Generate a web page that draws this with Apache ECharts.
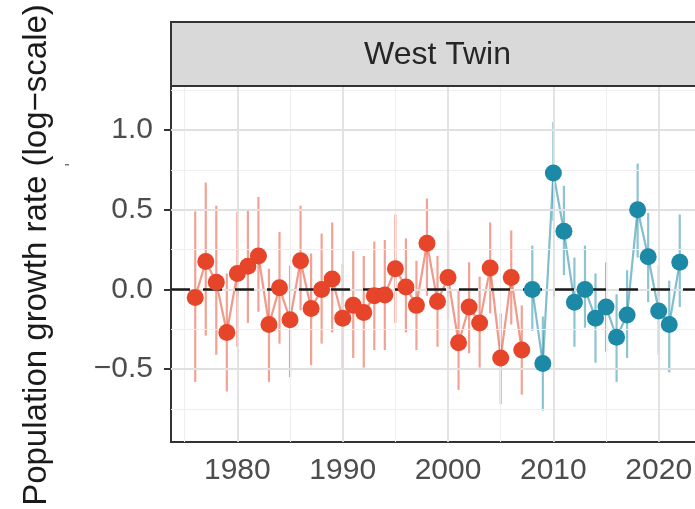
<!DOCTYPE html>
<html>
<head>
<meta charset="utf-8">
<script src="https://cdn.jsdelivr.net/npm/echarts@6/dist/echarts.min.js"></script>
<style>html,body{margin:0;padding:0;background:#fff}#c{width:695px;height:509px}</style>
</head>
<body>
<div id="c"></div>
<script>
// ---- data ----
const yearsA = [1976,1977,1978,1979,1980,1981,1982,1983,1984,1985,1986,1987,1988,1989,1990,1991,
                1992,1993,1994,1995,1996,1997,1998,1999,2000,2001,2002,2003,2004,2005,2006,2007];
const rateA  = [-0.05,0.175,0.045,-0.27,0.10,0.145,0.21,-0.22,0.01,-0.19,0.18,-0.12,0.0,0.065,-0.18,-0.10,
                -0.145,-0.04,-0.035,0.13,0.015,-0.10,0.29,-0.075,0.075,-0.335,-0.11,-0.21,0.135,-0.43,0.075,-0.38];
const lowA   = [-0.58,-0.29,-0.41,-0.64,-0.36,-0.21,-0.14,-0.58,-0.34,-0.55,-0.13,-0.475,-0.34,-0.27,-0.50,-0.43,
                -0.49,-0.38,-0.38,-0.21,-0.27,-0.38,-0.04,-0.36,-0.19,-0.63,-0.40,-0.49,-0.15,-0.72,-0.22,-0.66];
const highA  = [0.49,0.67,0.525,0.10,0.485,0.50,0.58,0.13,0.36,0.15,0.525,0.225,0.35,0.42,0.16,0.24,
                0.21,0.30,0.31,0.47,0.32,0.18,0.57,0.21,0.37,-0.01,0.17,0.08,0.42,-0.15,0.37,-0.10];

const yearsB = [2008,2009,2010,2011,2012,2013,2014,2015,2016,2017,2018,2019,2020,2021,2022];
const rateB  = [0.0,-0.465,0.73,0.365,-0.08,0.0,-0.18,-0.11,-0.30,-0.16,0.50,0.205,-0.135,-0.22,0.17];
const lowB   = [-0.26,-0.76,0.43,0.09,-0.36,-0.24,-0.46,-0.39,-0.58,-0.43,0.20,-0.08,-0.41,-0.52,-0.11];
const highB  = [0.275,-0.17,1.05,0.65,0.20,0.275,0.10,0.17,-0.03,0.12,0.79,0.48,0.15,0.055,0.47];

const xTicks = [1980,1990,2000,2010,2020];
const xMinor = [1975,1985,1995,2005,2015];
const yTicks = [-0.5,0.0,0.5,1.0];
const yMinor = [-0.75,-0.25,0.25,0.75,1.25];
const yTickLabels = ['\u22120.5','0.0','0.5','1.0'];
const panelTitle = 'West Twin';
const yTitle = 'Population growth rate (log\u2212scale)';

// ---- styling ----
const RED = '#E6452A', BLUE = '#1C89A6';
const FONT = 'Liberation Sans, Arial, sans-serif';
const GL = 171, GT = 86, GW = 533, GH = 356;

function pts(xs, ys){ return xs.map((x,i)=>[x, ys[i]]); }
function bars(xs, lo, hi){ return xs.map((x,i)=>[x, lo[i], hi[i]]); }

function errSeries(data, color){
  return {
    type:'custom', silent:true, z:3,
    data: data,
    encode:{x:0, y:[1,2]},
    renderItem: function(params, api){
      const a = api.coord([api.value(0), api.value(1)]);
      const b = api.coord([api.value(0), api.value(2)]);
      return {type:'line', shape:{x1:a[0],y1:a[1],x2:b[0],y2:b[1]},
              style:{stroke:color, lineWidth:2.2, opacity:0.5}};
    }
  };
}

const chart = echarts.init(document.getElementById('c'), null, {renderer:'canvas'});
chart.setOption({
  animation:false,
  backgroundColor:'#ffffff',
  grid:{left:GL, top:GT, width:GW, height:GH, show:true, borderColor:'#333333', borderWidth:2,
        backgroundColor:'transparent', containLabel:false, outerBoundsMode:'none'},
  xAxis:{
    type:'value', min:1973.7, max:2024.3,
    splitLine:{show:false}, axisLine:{show:false},
    axisTick:{show:true, length:7, customValues:xTicks, lineStyle:{color:'#333333', width:2}},
    axisLabel:{customValues:xTicks, margin:14, color:'#4d4d4d', fontSize:30, fontFamily:FONT,
      formatter:function(v){ return String(Math.round(v)); }}
  },
  yAxis:{
    type:'value', min:-0.957, max:1.276,
    splitLine:{show:false}, axisLine:{show:false},
    axisTick:{show:true, length:7, customValues:yTicks, lineStyle:{color:'#333333', width:2}},
    axisLabel:{customValues:yTicks, margin:18, color:'#4d4d4d', fontSize:30, fontFamily:FONT,
      formatter:function(v){ const i = yTicks.indexOf(v); return i>=0 ? yTickLabels[i] : ''; }}
  },
  graphic:[
    {type:'rect', shape:{x:GL, y:22, width:GW+10, height:GT-22}, style:{fill:'#d9d9d9', stroke:'#333333', lineWidth:2}, z:10},
    {type:'text', x:GL+GW/2, y:(22+GT)/2+1, style:{text:panelTitle, fill:'#262626', font:'32px '+FONT, align:'center', verticalAlign:'middle'}, z:11},
    {type:'text', x:37, y:255, rotation:Math.PI/2, style:{text:yTitle, fill:'#1a1a1a', font:'33px '+FONT, align:'center', verticalAlign:'middle'}, z:11},
    {type:'rect', shape:{x:65, y:164, width:4, height:1.5}, style:{fill:'#777777'}, z:11}
  ],
  series:[
    // grid lines
    {type:'line', data:[], silent:true, z:0,
     markLine:{silent:true, symbol:'none', label:{show:false}, animation:false,
       data:[].concat(
         xMinor.map(v=>({xAxis:v, lineStyle:{color:'#eeeeee', width:1, type:'solid'}})),
         yMinor.map(v=>({yAxis:v, lineStyle:{color:'#eeeeee', width:1, type:'solid'}})),
         xTicks.map(v=>({xAxis:v, lineStyle:{color:'#e0e0e0', width:1.8, type:'solid'}})),
         yTicks.map(v=>({yAxis:v, lineStyle:{color:'#e0e0e0', width:1.8, type:'solid'}}))
       )}},
    // zero line
    {type:'line', data:[], silent:true, z:2,
     markLine:{silent:true, symbol:'none', label:{show:false}, animation:false,
       data:[{yAxis:0, lineStyle:{color:'#1a1a1a', width:2.6, type:[19,13]}}]}},
    errSeries(bars(yearsA, lowA, highA), RED),
    errSeries(bars(yearsB, lowB, highB), BLUE),
    {type:'line', data:pts(yearsA, rateA), symbol:'none', z:4, silent:true,
     lineStyle:{color:RED, width:2.2, opacity:0.55}},
    {type:'line', data:pts(yearsB, rateB), symbol:'none', z:4, silent:true,
     lineStyle:{color:BLUE, width:2.2, opacity:0.55}},
    {type:'scatter', data:pts(yearsA, rateA), symbolSize:17, z:5, silent:true,
     itemStyle:{color:RED, opacity:1}},
    {type:'scatter', data:pts(yearsB, rateB), symbolSize:17, z:5, silent:true,
     itemStyle:{color:BLUE, opacity:1}}
  ]
});
</script>
</body>
</html>
